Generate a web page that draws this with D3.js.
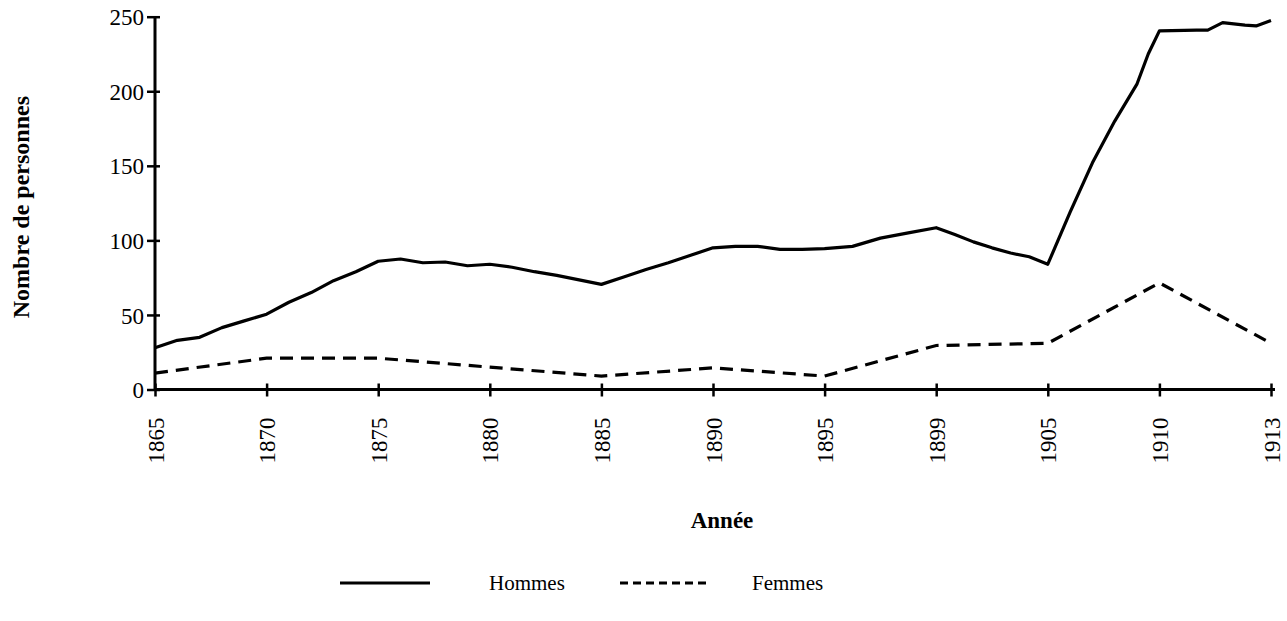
<!DOCTYPE html>
<html>
<head>
<meta charset="utf-8">
<script src="https://cdnjs.cloudflare.com/ajax/libs/d3/7.8.5/d3.min.js"></script>
<style>
	body { margin: 0; background: #fff; }
	svg text { font-family: 'Liberation Serif', 'Times New Roman', serif; fill: #000; }
	.tick-label { font-size: 23px; }
	.axis-label { font-size: 23px; font-weight: bold; }
	.legend-label { font-size: 21px; }
</style>
</head>
<body>
<svg id="chart" width="1287" height="621"></svg>
<script>
// Années affichées sur l'axe (espacées régulièrement, comme dans l'original)
const tickYears = [1865, 1870, 1875, 1880, 1885, 1890, 1895, 1899, 1905, 1910, 1913];
const yTicks = [0, 50, 100, 150, 200, 250];

// Hommes : lecture année par année sur le graphique
const hommesYears = [
	1865, 1866, 1867, 1868, 1869, 1870, 1871, 1872, 1873, 1874,
	1875, 1876, 1877, 1878, 1879, 1880, 1881, 1882, 1883, 1884,
	1885, 1886, 1887, 1888, 1889, 1890, 1891, 1892, 1893, 1894,
	1895, 1896, 1897, 1898, 1899, 1900, 1901, 1902, 1903, 1904,
	1905, 1906, 1907, 1908, 1909, 1909.5, 1910, 1911, 1911.3, 1911.7,
	1912.3, 1912.6, 1913
];
const hommesValues = [
	28, 33, 35, 41.5, 46, 50.5, 58.5, 65, 73, 79,
	86, 87.5, 85, 85.5, 83, 84, 82, 79, 76.5, 73.5,
	70.5, 75.5, 80.5, 85, 90, 95, 96, 96, 94, 94,
	94.5, 96, 101.5, 105, 108.5, 104, 99, 95, 91.5, 89,
	84, 119, 152, 180, 205, 225, 240.5, 241, 241, 246,
	244.3, 243.8, 247.5
];

// Femmes : valeurs aux années de l'axe
const femmesYears = [1865, 1870, 1875, 1880, 1885, 1890, 1895, 1899, 1905, 1910, 1913];
const femmesValues = [11, 21, 21, 15, 9, 14.5, 9, 29.5, 31, 71.5, 31];

const seriesNames = ['Hommes', 'Femmes'];

const svg = d3.select('#chart');

const plotLeft = 155;
const plotRight = 1271;
const plotTop = 16.7;
const plotBottom = 389.5;

//x : échelle linéaire par morceaux, chaque intervalle de l'axe a la même largeur
const step = (plotRight - plotLeft) / (tickYears.length - 1);
const xScale = d3.scaleLinear()
	.domain(tickYears)
	.range(tickYears.map((d, i) => plotLeft + i * step));

const yScale = d3.scaleLinear()
	.domain([0, 250])
	.range([plotBottom, plotTop]);

const hommes = hommesYears.map((d, i) => ({year: d, value: hommesValues[i]}));
const femmes = femmesYears.map((d, i) => ({year: d, value: femmesValues[i]}));

//Axes
const xAxis = d3.axisBottom(xScale)
	.tickValues(tickYears)
	.tickFormat(d3.format('d'))
	.tickSizeOuter(0);

const yAxis = d3.axisLeft(yScale)
	.tickValues(yTicks)
	.tickSizeOuter(0);

const xAxisG = svg.append('g')
	.attr('transform', `translate(0,${plotBottom})`)
	.call(xAxis)
	.attr('font-size', null)
	.attr('font-family', null);
xAxisG.select('.domain')
	.attr('d', `M${plotLeft},0H${plotRight + 4}`)
	.attr('stroke-width', 3);
xAxisG.selectAll('.tick line')
	.attr('y1', -6)
	.attr('y2', 7)
	.attr('stroke-width', 2.5);
xAxisG.selectAll('.tick text')
	.attr('class', 'tick-label')
	.attr('transform', 'rotate(-90)')
	.attr('x', -28)
	.attr('y', 0)
	.attr('dy', '0.35em')
	.style('text-anchor', 'end');

const yAxisG = svg.append('g')
	.attr('transform', `translate(${plotLeft},0)`)
	.call(yAxis)
	.attr('font-size', null)
	.attr('font-family', null);
yAxisG.select('.domain')
	.attr('d', `M0,${plotBottom}V${plotTop}`)
	.attr('stroke-width', 3);
yAxisG.selectAll('.tick line')
	.attr('x1', 5)
	.attr('x2', -8)
	.attr('stroke-width', 2.5);
yAxisG.selectAll('.tick text')
	.attr('class', 'tick-label')
	.attr('x', -11)
	.attr('dy', '0.35em');

//Titres des axes
svg.append('text')
	.attr('class', 'axis-label')
	.attr('transform', `translate(21,${(plotTop + plotBottom) / 2 + 4}) rotate(-90)`)
	.attr('text-anchor', 'middle')
	.attr('dy', '0.35em')
	.style('font-size', '24px')
	.text('Nombre de personnes');

svg.append('text')
	.attr('class', 'axis-label')
	.attr('x', (plotLeft + plotRight) / 2 + 9)
	.attr('y', 528)
	.attr('text-anchor', 'middle')
	.text('Année');

//Courbes
const line = d3.line()
	.x(d => xScale(d.year))
	.y(d => yScale(d.value));

svg.append('path')
	.datum(hommes)
	.attr('fill', 'none')
	.attr('stroke', '#000')
	.attr('stroke-width', 3.2)
	.attr('stroke-linejoin', 'round')
	.attr('d', line);

svg.append('path')
	.datum(femmes)
	.attr('fill', 'none')
	.attr('stroke', '#000')
	.attr('stroke-width', 3.2)
	.attr('stroke-dasharray', '13,8')
	.attr('d', line);

//Légende
const legendY = 583;
const legend = svg.append('g');
const legendItems = [
	{name: seriesNames[0], x: 340, textX: 489, dash: null},
	{name: seriesNames[1], x: 620, textX: 752, dash: '8,5'}
];
legendItems.forEach(d => {
	legend.append('line')
		.attr('x1', d.x)
		.attr('x2', d.x + 90)
		.attr('y1', legendY)
		.attr('y2', legendY)
		.attr('stroke', '#000')
		.attr('stroke-width', 3.2)
		.attr('stroke-dasharray', d.dash);
	legend.append('text')
		.attr('class', 'legend-label')
		.attr('x', d.textX)
		.attr('y', legendY)
		.attr('dy', '0.35em')
		.text(d.name);
});
</script>
</body>
</html>
